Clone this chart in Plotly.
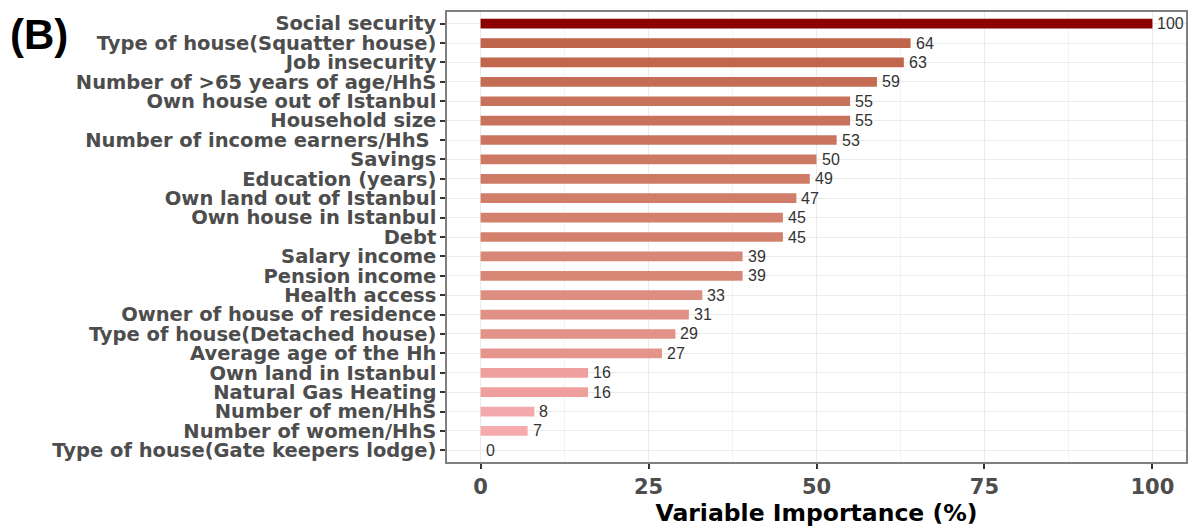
import plotly.graph_objects as go

variables = [
    "Social security",
    "Type of house(Squatter house)",
    "Job insecurity",
    "Number of >65 years of age/HhS",
    "Own house out of Istanbul",
    "Household size",
    "Number of income earners/HhS\u00a0",
    "Savings",
    "Education (years)",
    "Own land out of Istanbul",
    "Own house in Istanbul",
    "Debt",
    "Salary income",
    "Pension income",
    "Health access",
    "Owner of house of residence",
    "Type of house(Detached house)",
    "Average age of the Hh",
    "Own land in Istanbul",
    "Natural Gas Heating",
    "Number of men/HhS",
    "Number of women/HhS",
    "Type of house(Gate keepers lodge)",
]
importance = [100, 64, 63, 59, 55, 55, 53, 50, 49, 47, 45, 45, 39, 39,
              33, 31, 29, 27, 16, 16, 8, 7, 0]
x_ticks = [0, 25, 50, 75, 100]

# fill gradient: (importance, colour) stops from light pink to dark red
FILL_STOPS = [(0, "#FAB2BA"), (16, "#EFA09E"), (33, "#DE8E80"),
              (45, "#D3806C"), (64, "#C0654B"), (100, "#8B0000")]


def _rgb(h):
    h = h.lstrip("#")
    return [int(h[i:i + 2], 16) for i in (0, 2, 4)]


def fill_colour(v):
    for (v0, c0), (v1, c1) in zip(FILL_STOPS[:-1], FILL_STOPS[1:]):
        if v0 <= v <= v1:
            t = (v - v0) / (v1 - v0)
            a, b = _rgb(c0), _rgb(c1)
            return "#%02X%02X%02X" % tuple(round(a[i] + t * (b[i] - a[i])) for i in range(3))
    return FILL_STOPS[-1][1]


colors = [fill_colour(v) for v in importance]

LABEL_FONT = "DejaVu Sans, Verdana, sans-serif"

fig = go.Figure()
fig.add_trace(go.Bar(
    x=importance, y=variables, orientation="h", width=0.5,
    marker=dict(color=colors, line=dict(width=0)),
    hoverinfo="x+y",
))

# value labels just past the end of each bar
for v, name in zip(importance, variables):
    fig.add_annotation(
        x=v, y=name, text=str(v), showarrow=False,
        xanchor="left", yanchor="middle", xshift=3,
        font=dict(family="Liberation Sans, Arial", size=16, color="#333333"),
    )

fig.add_annotation(
    text="<b>(B)</b>", xref="paper", yref="paper",
    x=-447 / (1198 - 447 - 10) + 7 / (1198 - 447 - 10), y=1 + 3 / (531 - 11 - 69),
    xanchor="left", yanchor="top", showarrow=False,
    font=dict(family="Liberation Sans, Arial", size=42, color="#000000"),
)

fig.update_layout(
    width=1198, height=531,
    margin=dict(l=447, r=10, t=11, b=69),
    plot_bgcolor="white", paper_bgcolor="white",
    showlegend=False,
    xaxis=dict(
        range=[-5, 105], tickmode="array", tickvals=x_ticks,
        ticktext=[str(t) for t in x_ticks],
        ticks="outside", ticklen=5, tickcolor="#333333", tickwidth=1.5,
        tickfont=dict(family=LABEL_FONT, size=21, color="#4D4D4D", weight="bold"),
        showgrid=True, gridcolor="#EBEBEB", gridwidth=1.2,
        minor=dict(tickvals=[12.5, 37.5, 62.5, 87.5], showgrid=True,
                   gridcolor="#F4F4F4", gridwidth=1, ticks=""),
        zeroline=False, showline=True, mirror=True, linecolor="#7F7F7F", linewidth=1.5,
        title=dict(text="<b>Variable Importance (%)</b>", standoff=6,
                   font=dict(family=LABEL_FONT, size=23.5, color="#000000")),
    ),
    yaxis=dict(
        categoryorder="array", categoryarray=variables[::-1],
        tickmode="array", tickvals=variables,
        range=[-0.6, len(variables) - 0.4],
        ticks="outside", ticklen=5, tickcolor="#333333", tickwidth=1.5,
        tickfont=dict(family=LABEL_FONT, size=19.5, color="#4D4D4D", weight="bold"),
        showgrid=True, gridcolor="#EBEBEB", gridwidth=1.2,
        zeroline=False, showline=True, mirror=True, linecolor="#7F7F7F", linewidth=1.5,
    ),
)

fig.write_html("out.html")
